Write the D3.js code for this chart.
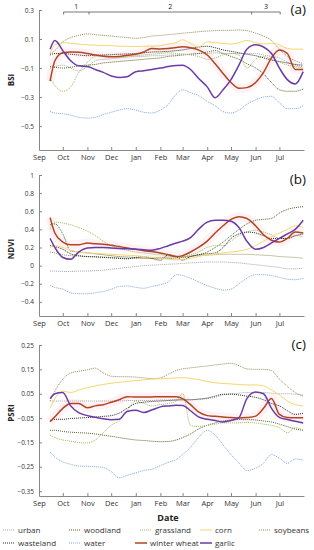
<!DOCTYPE html>
<html>
<head>
<meta charset="utf-8">
<script src="https://cdn.jsdelivr.net/npm/d3@7"></script>
<style>
  body { margin: 0; background: #fff; }
  text { font-family: "Open Sans", sans-serif; }
</style>
</head>
<body>
<div id="chart"></div>
<script>
// sample dates (dekads), shared by every series
var dates = ["2018-09-15","2018-09-21","2018-10-01","2018-10-11","2018-10-21","2018-11-01","2018-11-11","2018-11-21",
  "2018-12-01","2018-12-11","2018-12-21","2019-01-01","2019-01-11","2019-01-21","2019-02-01","2019-02-11","2019-02-21",
  "2019-03-01","2019-03-11","2019-03-21","2019-04-01","2019-04-11","2019-04-21","2019-05-01","2019-05-11","2019-05-21",
  "2019-06-01","2019-06-11","2019-06-21","2019-07-01","2019-07-11","2019-07-21","2019-07-31"];
var months = ["2018-09-01","2018-10-01","2018-11-01","2018-12-01","2019-01-01","2019-02-01","2019-03-01",
  "2019-04-01","2019-05-01","2019-06-01","2019-07-01"];
var stageBounds = ["2018-10-02","2018-11-03","2019-05-27","2019-07-02"];
var stageLabels = ["1","2","3"];

var classes = ["urban","woodland","grassland","corn","soybeans","wasteland","water","winter wheat","garlic"];

// BSI
var bsiUrban = [-0.1,-0.09,-0.08,-0.1,-0.12,-0.09,-0.05,-0.04,-0.035,-0.03,-0.025,-0.02,-0.02,-0.015,-0.015,-0.01,-0.01,-0.005,-0.005,0,0,0.005,0,0,0,0,0,-0.01,-0.02,-0.03,-0.06,-0.08,-0.09];
var bsiWoodland = [-0.09,-0.095,-0.1,-0.095,-0.085,-0.08,-0.075,-0.065,-0.06,-0.055,-0.05,-0.045,-0.04,-0.035,-0.03,-0.02,-0.015,-0.01,-0.005,0,0.01,0.02,0,-0.02,-0.04,-0.07,-0.1,-0.14,-0.2,-0.25,-0.26,-0.26,-0.245];
var bsiGrassland = [-0.17,-0.22,-0.26,-0.23,-0.13,-0.06,-0.02,-0.015,-0.02,-0.025,-0.02,-0.015,-0.01,-0.005,0,0.005,0,-0.005,-0.01,-0.02,-0.04,-0.03,-0.01,0,-0.01,-0.1,-0.04,-0.02,-0.04,-0.06,-0.08,-0.09,-0.1];
var bsiCorn = [0,0.06,0.075,0.07,0.065,0.06,0.058,0.055,0.055,0.05,0.05,0.048,0.05,0.05,0.055,0.065,0.075,0.095,0.07,0.045,0.08,0.075,0.07,0.065,0.075,0.09,0.075,0.065,0.07,0.06,0.035,0.03,0.03];
var bsiSoybeans = [0,0.02,0.08,0.11,0.125,0.135,0.13,0.125,0.12,0.115,0.11,0.105,0.11,0.12,0.125,0.13,0.135,0.14,0.145,0.15,0.155,0.158,0.16,0.16,0.162,0.158,0.14,0.12,0.09,0.03,-0.02,-0.05,-0.07];
var bsiWasteland = [-0.01,0,0,-0.005,-0.01,-0.015,-0.012,-0.01,-0.008,-0.005,-0.003,0,0.005,0.01,0.012,0.015,0.02,0.025,0.035,0.045,0.05,0.04,0.025,0.015,0.005,-0.005,-0.015,-0.03,-0.045,-0.055,-0.065,-0.075,-0.08];
var bsiWater = [-0.4,-0.41,-0.415,-0.425,-0.44,-0.445,-0.44,-0.42,-0.405,-0.39,-0.38,-0.39,-0.405,-0.41,-0.39,-0.35,-0.28,-0.25,-0.27,-0.29,-0.33,-0.36,-0.4,-0.41,-0.39,-0.35,-0.32,-0.3,-0.295,-0.34,-0.38,-0.38,-0.36];
var bsiWheat = [-0.19,-0.05,0.005,0.01,0.008,0,-0.01,-0.018,-0.022,-0.02,-0.012,-0.005,0.01,0.035,0.032,0.035,0.042,0.046,0.04,0.025,-0.01,-0.07,-0.137,-0.2,-0.24,-0.235,-0.2,-0.13,-0.03,0.025,0,-0.11,-0.11];
var bsiGarlic = [0.03,0.09,0.02,-0.05,-0.085,-0.09,-0.11,-0.13,-0.155,-0.165,-0.16,-0.125,-0.118,-0.11,-0.1,-0.09,-0.082,-0.08,-0.11,-0.17,-0.23,-0.305,-0.25,-0.18,-0.08,0.03,0.06,0.045,0,-0.1,-0.18,-0.21,-0.125];

// NDVI
var ndviUrban = [-0.06,-0.06,-0.065,-0.065,-0.06,-0.06,-0.055,-0.05,-0.04,-0.03,-0.02,-0.01,0,0.005,0.01,0.015,0.02,0.025,0.03,0.035,0.04,0.04,0.04,0.035,0.03,0.02,0.01,0,-0.01,-0.02,-0.035,-0.035,-0.03];
var ndviWoodland = [0.45,0.46,0.35,0.16,0.15,0.14,0.13,0.12,0.11,0.1,0.095,0.09,0.085,0.08,0.08,0.08,0.085,0.09,0.1,0.12,0.15,0.2,0.26,0.33,0.4,0.46,0.5,0.51,0.52,0.58,0.62,0.64,0.65];
var ndviGrassland = [0.4,0.48,0.47,0.45,0.42,0.38,0.33,0.27,0.22,0.19,0.17,0.15,0.14,0.13,0.12,0.11,0.1,0.1,0.12,0.15,0.2,0.22,0.22,0.27,0.33,0.37,0.39,0.37,0.34,0.3,0.3,0.33,0.32];
var ndviCorn = [0.2,0.22,0.2,0.17,0.15,0.14,0.135,0.13,0.125,0.12,0.115,0.11,0.1,0.09,0.08,0.07,0.065,0.07,0.08,0.1,0.12,0.13,0.14,0.15,0.16,0.18,0.22,0.27,0.32,0.36,0.4,0.44,0.42];
var ndviSoybeans = [0.15,0.14,0.12,0.11,0.105,0.1,0.1,0.095,0.09,0.085,0.08,0.08,0.08,0.085,0.09,0.095,0.1,0.1,0.105,0.11,0.115,0.12,0.125,0.125,0.125,0.125,0.12,0.115,0.11,0.1,0.095,0.09,0.08];
var ndviWasteland = [0.22,0.21,0.18,0.13,0.11,0.1,0.095,0.09,0.085,0.08,0.075,0.09,0.1,0.08,0.06,0.12,0.1,0.06,0.1,0.12,0.13,0.14,0.2,0.3,0.35,0.37,0.36,0.33,0.3,0.3,0.3,0.33,0.35];
var ndviWater = [-0.22,-0.24,-0.26,-0.3,-0.31,-0.31,-0.3,-0.285,-0.26,-0.23,-0.225,-0.24,-0.25,-0.23,-0.21,-0.18,-0.1,-0.11,-0.14,-0.18,-0.22,-0.25,-0.27,-0.26,-0.2,-0.14,-0.1,-0.1,-0.11,-0.13,-0.15,-0.155,-0.14];
var ndviWheat = [0.53,0.36,0.26,0.23,0.23,0.25,0.24,0.235,0.225,0.21,0.195,0.18,0.165,0.155,0.14,0.12,0.1,0.11,0.15,0.2,0.27,0.36,0.44,0.51,0.54,0.52,0.44,0.34,0.28,0.26,0.3,0.37,0.36];
var ndviGarlic = [0.3,0.2,0.09,0.07,0.15,0.195,0.2,0.2,0.195,0.19,0.185,0.18,0.175,0.17,0.19,0.22,0.25,0.27,0.31,0.4,0.48,0.5,0.5,0.49,0.42,0.27,0.18,0.2,0.25,0.3,0.35,0.4,0.5];

// PSRI
var psriUrban = [0.02,0.02,0.02,0.02,0.02,0.02,0.02,0.02,0.02,0.02,0.022,0.022,0.022,0.022,0.024,0.024,0.025,0.025,0.025,0.026,0.03,0.035,0.045,0.05,0.052,0.055,0.055,0.055,0.052,0.05,0.05,0.048,0.045];
var psriWoodland = [-0.1,-0.1,-0.105,-0.108,-0.11,-0.112,-0.115,-0.12,-0.125,-0.13,-0.135,-0.14,-0.142,-0.145,-0.147,-0.146,-0.14,-0.13,-0.115,-0.095,-0.08,-0.07,-0.062,-0.058,-0.056,-0.056,-0.058,-0.062,-0.066,-0.075,-0.085,-0.095,-0.1];
var psriGrassland = [-0.12,-0.13,-0.14,-0.145,-0.15,-0.152,-0.14,-0.11,-0.08,-0.06,-0.02,0.02,0.01,0,0.005,0.01,0.02,0.05,-0.08,-0.085,-0.08,-0.075,-0.07,-0.07,-0.07,-0.068,-0.07,-0.075,-0.08,-0.09,-0.11,-0.09,-0.1];
var psriCorn = [-0.01,0.03,0.06,0.055,0.065,0.075,0.082,0.088,0.093,0.097,0.1,0.104,0.107,0.11,0.111,0.113,0.115,0.116,0.113,0.108,0.1,0.095,0.092,0.09,0.088,0.086,0.086,0.082,0.065,0.045,0.02,0.005,0];
var psriSoybeans = [0.02,0.06,0.11,0.135,0.142,0.148,0.155,0.135,0.122,0.12,0.12,0.118,0.115,0.112,0.115,0.13,0.145,0.152,0.156,0.16,0.164,0.168,0.172,0.175,0.165,0.152,0.15,0.15,0.145,0.11,0.08,0.055,0.04];
var psriWasteland = [-0.06,-0.055,-0.055,-0.052,-0.05,-0.048,-0.046,-0.043,-0.04,-0.03,-0.01,0.01,0.015,0.018,0.02,0.022,0.024,0.025,0.025,0.028,0.032,0.04,0.048,0.048,0.045,0.04,0.035,0.025,0.01,0,-0.02,-0.035,-0.03];
var psriWater = [-0.19,-0.21,-0.23,-0.24,-0.247,-0.248,-0.25,-0.253,-0.27,-0.295,-0.285,-0.275,-0.265,-0.26,-0.245,-0.232,-0.22,-0.2,-0.17,-0.13,-0.1,-0.12,-0.16,-0.2,-0.235,-0.265,-0.256,-0.235,-0.2,-0.215,-0.236,-0.218,-0.222];
var psriWheat = [-0.065,-0.045,-0.01,0.01,0.01,-0.008,0,0.005,0.015,0.025,0.038,0.036,0.036,0.037,0.038,0.038,0.038,0.03,0.005,-0.025,-0.04,-0.043,-0.046,-0.048,-0.05,-0.048,-0.042,-0.01,0.03,-0.035,-0.048,-0.049,-0.049];
var psriGarlic = [0.03,0.05,0.055,0,-0.028,-0.04,-0.047,-0.053,-0.057,-0.055,-0.023,-0.018,-0.027,-0.017,-0.004,0,0.003,0.002,-0.02,-0.045,-0.055,-0.06,-0.066,-0.06,-0.048,0.03,0.057,0.05,-0.01,-0.047,-0.056,-0.063,-0.07];

var bsiTicks = [0.3, 0.1, -0.1, -0.3, -0.5];
var ndviTicks = [1, 0.8, 0.6, 0.4, 0.2, 0, -0.2, -0.4];
var psriTicks = [0.25, 0.15, 0.05, -0.05, -0.15, -0.25, -0.35];

var colors = {
  "urban": "#a5a5a5", "woodland": "#4f6228", "grassland": "#9bbb59", "corn": "#f5d76e",
  "soybeans": "#948a54", "wasteland": "#262626", "water": "#7ea6dc",
  "winter wheat": "#b0461e", "garlic": "#6a3aa6"
};
var solid = {"winter wheat": true, "garlic": true, "corn": true};

var parse = d3.timeParse("%Y-%m-%d");
var W = 314, H = 550;
var svg = d3.select("#chart").append("svg").attr("width", W).attr("height", H);

var x = d3.scaleTime().domain([parse("2018-09-01"), parse("2019-08-01")]).range([39, 304]);

var panels = [
  {tag: "(a)", title: "BSI", ticks: bsiTicks, domain: [-0.665, 0.3], range: [150, 10], titleY: 80, tagY: 14,
   series: [bsiUrban, bsiWoodland, bsiGrassland, bsiCorn, bsiSoybeans, bsiWasteland, bsiWater, bsiWheat, bsiGarlic]},
  {tag: "(b)", title: "NDVI", ticks: ndviTicks, domain: [-0.556, 1], range: [316, 175], titleY: 249, tagY: 184,
   series: [ndviUrban, ndviWoodland, ndviGrassland, ndviCorn, ndviSoybeans, ndviWasteland, ndviWater, ndviWheat, ndviGarlic]},
  {tag: "(c)", title: "PSRI", ticks: psriTicks, domain: [-0.37, 0.25], range: [496, 345], titleY: 413, tagY: 349,
   series: [psriUrban, psriWoodland, psriGrassland, psriCorn, psriSoybeans, psriWasteland, psriWater, psriWheat, psriGarlic]}
];

panels.forEach(function(p) {
  var y = d3.scaleLinear().domain(p.domain).range(p.range);
  var g = svg.append("g");

  var yAxis = g.append("g").attr("transform", "translate(39,0)")
    .call(d3.axisLeft(y).tickValues(p.ticks).tickSizeInner(-3).tickSizeOuter(0).tickPadding(5)
      .tickFormat(function(d) { return d3.format("")(+d.toFixed(2)); }));
  var xAxis = g.append("g").attr("transform", "translate(0," + p.range[0] + ")")
    .call(d3.axisBottom(x).tickValues(months.map(parse)).tickSizeInner(-3).tickSizeOuter(0).tickPadding(5)
      .tickFormat(d3.timeFormat("%b")));
  [yAxis, xAxis].forEach(function(a) {
    a.select(".domain").attr("stroke", "#888");
    a.selectAll(".tick line").attr("stroke", "#888");
    a.selectAll(".tick text").attr("fill", "#333").style("font-family", "Open Sans");
  });
  yAxis.selectAll(".tick text").attr("font-size", 6.5);
  xAxis.selectAll(".tick text").attr("font-size", 7.5);

  g.append("text").attr("transform", "translate(14," + p.titleY + ") rotate(-90)")
    .attr("text-anchor", "middle").attr("font-size", 8).attr("font-weight", "bold").attr("fill", "#222")
    .text(p.title);
  g.append("text").attr("x", 306).attr("y", p.tagY).attr("text-anchor", "end")
    .attr("font-size", 13.5).attr("fill", "#111").text(p.tag);

  var line = d3.line().x(function(d) { return x(d[0]); }).y(function(d) { return y(d[1]); })
    .curve(d3.curveMonotoneX);

  var order = [0, 1, 2, 4, 5, 6, 3, 7, 8];
  // faint pink halo under winter wheat
  var wheatPts = dates.map(function(d, i) { return [parse(d), p.series[7][i]]; });
  g.append("path").attr("d", line(wheatPts)).attr("fill", "none")
    .attr("stroke", "#ff8fb3").attr("stroke-opacity", 0.12).attr("stroke-width", 9);

  order.forEach(function(k) {
    var name = classes[k];
    var pts = dates.map(function(d, i) { return [parse(d), p.series[k][i]]; });
    g.append("path").attr("d", line(pts)).attr("fill", "none")
      .attr("stroke", colors[name])
      .attr("stroke-width", (name === "winter wheat" || name === "garlic") ? 1.5 : 1)
      .attr("stroke-dasharray", solid[name] ? null : "1,1");
  });
});

// growth stage bracket in panel (a)
var sb = stageBounds.map(parse);
svg.append("line").attr("x1", x(sb[0])).attr("x2", x(sb[3])).attr("y1", 12).attr("y2", 12)
  .attr("stroke", "#555").attr("stroke-width", 0.8);
sb.forEach(function(d) {
  svg.append("line").attr("x1", x(d)).attr("x2", x(d)).attr("y1", 12).attr("y2", 14.5)
    .attr("stroke", "#555").attr("stroke-width", 0.8);
});
stageLabels.forEach(function(t, i) {
  svg.append("text").attr("x", (x(sb[i]) + x(sb[i + 1])) / 2).attr("y", 8.5)
    .attr("text-anchor", "middle").attr("font-size", 7).attr("fill", "#222").text(t);
});

// x axis title
svg.append("text").attr("x", 168).attr("y", 521).attr("text-anchor", "middle")
  .attr("font-size", 9).attr("font-weight", "bold").attr("fill", "#222").text("Date");

// legend
var legendPos = [[3, 530], [69, 530], [140, 530], [200, 530], [259, 530],
                 [3, 543], [69, 543], [135, 543], [200, 543]];
classes.forEach(function(name, i) {
  var lx = legendPos[i][0], ly = legendPos[i][1];
  svg.append("line").attr("x1", lx).attr("x2", lx + 12).attr("y1", ly).attr("y2", ly)
    .attr("stroke", colors[name])
    .attr("stroke-width", (name === "winter wheat" || name === "garlic") ? 1.5 : 1)
    .attr("stroke-dasharray", solid[name] ? null : "1,1");
  svg.append("text").attr("x", lx + 15).attr("y", ly + 3).attr("font-size", 8).attr("fill", "#333").text(name);
});
</script>
</body>
</html>
